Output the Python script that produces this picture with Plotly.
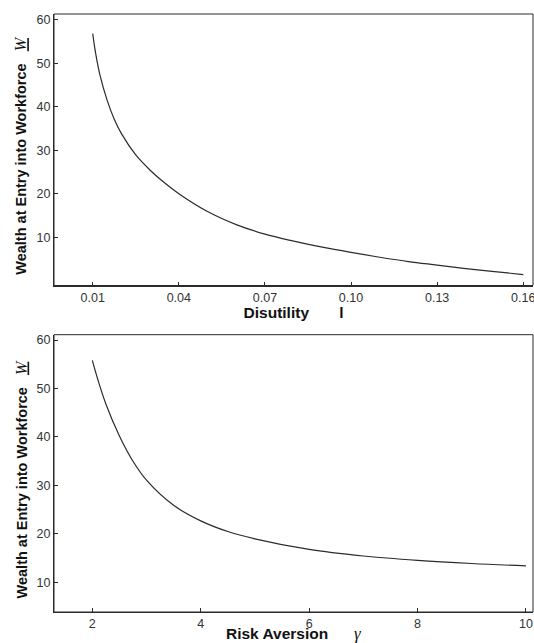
import plotly.graph_objects as go

# Top panel: wealth vs disutility l
disutility = [0.010, 0.011, 0.0125, 0.015, 0.0175, 0.020, 0.025, 0.030, 0.035, 0.040,
              0.050, 0.060, 0.070, 0.080, 0.090, 0.100, 0.110, 0.120, 0.130,
              0.140, 0.150, 0.160]
wealth_l = [56.8, 52.3, 47.3, 41.5, 37.1, 33.8, 28.9, 25.4, 22.5, 20.0,
            15.9, 12.9, 10.7, 9.1, 7.7, 6.5, 5.4, 4.4, 3.6,
            2.8, 2.1, 1.4]
x_ticks_top = [0.01, 0.04, 0.07, 0.10, 0.13, 0.16]
x_ticktext_top = ["0.01", "0.04", "0.07", "0.10", "0.13", "0.16"]

# Bottom panel: wealth vs risk aversion gamma
risk_aversion = [2.0, 2.1, 2.25, 2.5, 2.75, 3.0, 3.5, 4.0, 4.5, 5.0,
                 6.0, 7.0, 8.0, 9.0, 10.0]
wealth_g = [55.8, 51.9, 46.8, 40.2, 35.0, 31.1, 25.9, 22.7, 20.5, 19.0,
            16.8, 15.45, 14.55, 13.9, 13.4]
x_ticks_bot = [2, 4, 6, 8, 10]
y_ticks = [10, 20, 30, 40, 50, 60]

W, H = 534, 643
ML, MR, MT, MB = 54, 1, 14, 31
ph = H - MT - MB

def frac(py):
    return (H - MB - py) / ph

top_dom = [frac(285.5), 1.0]
bot_dom = [0.0, frac(334.7)]

line_col = "#2b2b2b"
tick_font = dict(family="Liberation Sans, Arial, sans-serif", size=12.5, color="#333333")
ytitle_font = dict(family="Liberation Sans, Arial, sans-serif", size=14.5, color="#111111")
xtitle_font = dict(family="Liberation Sans, Arial, sans-serif", size=15.5, color="#111111")
nb = "\u00a0"

fig = go.Figure()
fig.add_trace(go.Scatter(x=disutility, y=wealth_l, mode="lines",
                         line=dict(color=line_col, width=1.2, shape="spline", smoothing=1.0),
                         xaxis="x", yaxis="y", showlegend=False, hoverinfo="skip"))
fig.add_trace(go.Scatter(x=risk_aversion, y=wealth_g, mode="lines",
                         line=dict(color=line_col, width=1.2, shape="spline", smoothing=1.0),
                         xaxis="x2", yaxis="y2", showlegend=False, hoverinfo="skip"))

ytitle = ("<b>Wealth at Entry into Workforce</b>" + nb * 3 +
          "<span style='font-family:Liberation Serif, Times New Roman, serif;font-weight:normal;font-size:16px'><i><u>W</u></i></span>")

common_ax = dict(showline=True, linecolor=line_col, linewidth=1, ticks="inside",
                 ticklen=4, tickcolor=line_col, tickwidth=1, showgrid=False,
                 zeroline=False, tickfont=tick_font, mirror=False,
                 ticklabeloverflow="allow")

fig.update_layout(
    width=W, height=H,
    margin=dict(l=ML, r=MR, t=MT, b=MB, autoexpand=False),
    paper_bgcolor="white", plot_bgcolor="white",
    xaxis=dict(common_ax, domain=[0, 1], anchor="y", range=[-0.0035, 0.1634],
               tickvals=x_ticks_top, ticktext=x_ticktext_top,
               title=dict(text="<b>Disutility" + nb * 7 + "l</b>", font=xtitle_font, standoff=3)),
    yaxis=dict(common_ax, domain=top_dom, anchor="x", range=[-1.1, 61.3],
               tickvals=y_ticks),
    xaxis2=dict(common_ax, domain=[0, 1], anchor="y2", range=[1.293, 10.13],
                tickvals=x_ticks_bot),
    yaxis2=dict(common_ax, domain=bot_dom, anchor="x2", range=[3.9, 61.1],
                tickvals=y_ticks),
)

# bottom x-axis title, at the very foot of the page
fig.add_annotation(text="<b>Risk Aversion</b>" + nb * 6 +
                   "<span style='font-family:Liberation Serif, serif;font-weight:normal;font-size:17px'><i>γ</i></span>",
                   xref="x2 domain", yref="paper", x=0.5, y=frac(643.5), xanchor="center",
                   yanchor="bottom", showarrow=False, font=xtitle_font, borderpad=0)

# y-axis titles (rotated), placed beside each panel
x_title = (21 - ML) / (W - ML - MR)
for yr in ("y domain", "y2 domain"):
    fig.add_annotation(text=ytitle, textangle=-90, xref="paper", yref=yr,
                       x=x_title, y=0.478, xanchor="center", yanchor="middle",
                       showarrow=False, font=ytitle_font)

# frames (top/right edges without ticks)
for xr, yr in (("x domain", "y domain"), ("x2 domain", "y2 domain")):
    fig.add_shape(type="rect", xref=xr, yref=yr, x0=0, x1=1, y0=0, y1=1,
                  line=dict(color=line_col, width=1), fillcolor="rgba(0,0,0,0)", layer="above")

fig.write_html("out.html")
